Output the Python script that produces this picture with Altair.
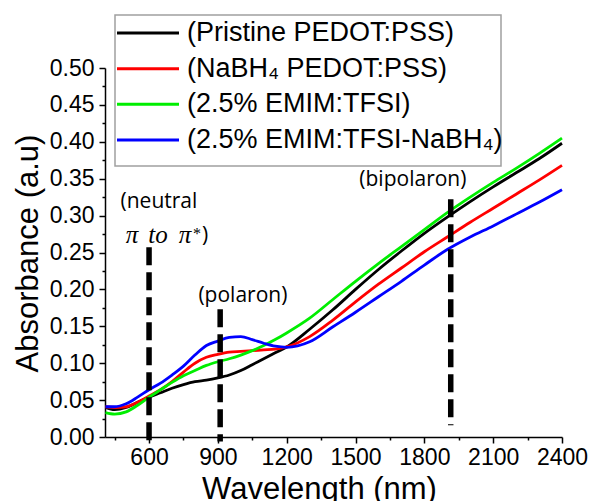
import altair as alt
import pandas as pd

# ---------------- data ----------------
wavelength = [410, 450, 500, 550, 600, 650, 700, 750, 800, 850, 900, 950, 1000, 1050,
              1100, 1150, 1200, 1300, 1400, 1500, 1600, 1700, 1800, 1900, 2000, 2100,
              2200, 2300, 2400]
pristine = [0.040, 0.037, 0.040, 0.047, 0.054, 0.060, 0.066, 0.071, 0.075, 0.077, 0.080,
            0.084, 0.090, 0.098, 0.106, 0.114, 0.122, 0.146, 0.172, 0.200, 0.227, 0.252,
            0.276, 0.298, 0.319, 0.339, 0.358, 0.377, 0.398]
nabh4 = [0.041, 0.040, 0.041, 0.047, 0.0555, 0.064, 0.075, 0.088, 0.100, 0.108, 0.112,
         0.115, 0.116, 0.117, 0.118, 0.119, 0.122, 0.136, 0.158, 0.183, 0.207, 0.229,
         0.251, 0.271, 0.291, 0.310, 0.329, 0.348, 0.368]
emim = [0.033, 0.031, 0.034, 0.043, 0.054, 0.064, 0.074, 0.083, 0.090, 0.097, 0.102,
        0.106, 0.111, 0.117, 0.124, 0.132, 0.141, 0.161, 0.186, 0.211, 0.235, 0.258,
        0.281, 0.304, 0.325, 0.345, 0.364, 0.384, 0.405]
emim_nabh4 = [0.041, 0.041, 0.045, 0.054, 0.064, 0.073, 0.084, 0.096, 0.111, 0.124, 0.130,
              0.135, 0.136, 0.132, 0.127, 0.123, 0.1215, 0.129, 0.149, 0.169, 0.190, 0.211,
              0.233, 0.254, 0.271, 0.286, 0.302, 0.318, 0.335]

series_names = ["(Pristine PEDOT:PSS)", "(NaBH\u2084 PEDOT:PSS)",
                "(2.5% EMIM:TFSI)", "(2.5% EMIM:TFSI-NaBH\u2084)"]
series_colors = ["#000000", "#ff0000", "#00ee00", "#0000ff"]

peak_wavelength = [600, 910, 1915]
peak_top = [0.257, 0.173, 0.322]
peak_bottom = [-0.006, -0.006, 0.016]

note_text = ["(neutral", "(polaron)", "(bipolaron)", ")"]
note_x = [643, 1009, 1750, 844]
note_y = [0.318, 0.191, 0.348, 0.272]

math_text = ["\u03c0", "to", "\u03c0"]
math_x = [526, 639, 757]
math_y = [0.263, 0.263, 0.263]

star_text = ["*"]
star_x = [809]
star_y = [0.268]

x_major = [600, 900, 1200, 1500, 1800, 2100, 2400]
x_minor = [450, 750, 1050, 1350, 1650, 1950, 2250]
y_major = [0.0, 0.05, 0.1, 0.15, 0.2, 0.25, 0.3, 0.35, 0.4, 0.45, 0.5]
y_minor = [0.025, 0.075, 0.125, 0.175, 0.225, 0.275, 0.325, 0.375, 0.425, 0.475]

# ---------------- tables ----------------
rows = []
for name, vals in zip(series_names, [pristine, nabh4, emim, emim_nabh4]):
    for w, v in zip(wavelength, vals):
        rows.append({"series": name, "wavelength": w, "absorbance": v})
spectra = pd.DataFrame(rows)
peaks = pd.DataFrame({"w": peak_wavelength, "top": peak_top, "bottom": peak_bottom})
notes = pd.DataFrame({"t": note_text, "w": note_x, "a": note_y})
maths = pd.DataFrame({"t": math_text, "w": math_x, "a": math_y})
stars = pd.DataFrame({"t": star_text, "w": star_x, "a": star_y})
legend_df = pd.DataFrame({"series": series_names})
box_df = pd.DataFrame({"k": [0]})

FONT = "Liberation Sans"

xscale = alt.Scale(domain=[408, 2400], nice=False, zero=False)
yscale = alt.Scale(domain=[0, 0.5], nice=False, zero=False)
cscale = alt.Scale(domain=series_names, range=series_colors)

common = dict(domainColor="#000", domainWidth=1.5, tickColor="#000", tickWidth=1.5,
              grid=False, labelOverlap=False, labelFlush=False, labelBound=False)

x_axis = alt.Axis(
    values=x_major, orient="bottom", tickSize=6, format="d",
    labelFont=FONT, labelFontSize=23, labelColor="#000", labelPadding=3,
    title="Wavelength (nm)", titleFont=FONT, titleFontSize=31,
    titleFontWeight="normal", titleColor="#000", titleX=214, titleY=61,
    titleAlign="center", titleBaseline="alphabetic", **common,
)
x_axis_minor = alt.Axis(values=x_minor, orient="bottom", tickSize=3, labels=False,
                        domain=False, title=None, tickColor="#000", tickWidth=1.5,
                        grid=False)
y_axis = alt.Axis(
    values=y_major, orient="left", tickSize=6, format=".2f",
    labelFont=FONT, labelFontSize=23, labelColor="#000", labelPadding=5,
    title="Absorbance (a.u)", titleFont=FONT, titleFontSize=31,
    titleFontWeight="normal", titleColor="#000", titleX=-77, titleY=185,
    titleAngle=270, titleAlign="center", titleBaseline="middle", **common,
)
y_axis_minor = alt.Axis(values=y_minor, orient="left", tickSize=3, labels=False,
                        domain=False, title=None, tickColor="#000", tickWidth=1.5,
                        grid=False)

curves = alt.Chart(spectra).mark_line(strokeWidth=2.8, interpolate="monotone").encode(
    x=alt.X("wavelength:Q", scale=xscale, axis=x_axis),
    y=alt.Y("absorbance:Q", scale=yscale, axis=y_axis),
    color=alt.Color("series:N", scale=cscale, legend=None),
    detail="series:N",
)

dashes = alt.Chart(peaks).mark_rule(color="#000", strokeWidth=5.5, strokeDash=[18, 7]).encode(
    x=alt.X("w:Q", scale=xscale, axis=x_axis_minor),
    y=alt.Y("top:Q", scale=yscale, axis=y_axis_minor),
    y2="bottom:Q",
)

note_layer = alt.Chart(notes).mark_text(
    font="Open Sans", fontSize=21, color="#000", align="center", baseline="middle"
).encode(x=alt.X("w:Q", scale=xscale, axis=None),
         y=alt.Y("a:Q", scale=yscale, axis=None), text="t:N")

math_layer = alt.Chart(maths).mark_text(
    font="Liberation Serif", fontSize=25, fontStyle="italic", color="#000",
    align="center", baseline="alphabetic"
).encode(x=alt.X("w:Q", scale=xscale, axis=None),
         y=alt.Y("a:Q", scale=yscale, axis=None), text="t:N")

star_layer = alt.Chart(stars).mark_text(
    font="Liberation Serif", fontSize=16, color="#000", align="center", baseline="alphabetic"
).encode(x=alt.X("w:Q", scale=xscale, axis=None),
         y=alt.Y("a:Q", scale=yscale, axis=None), text="t:N")

main = alt.layer(curves, dashes, note_layer, math_layer, star_layer).resolve_axis(
    x="independent", y="independent")

# ---------------- legend (frame + entries) ----------------
ly = alt.Y("series:N", scale=alt.Scale(type="point", domain=series_names,
                                       range=[-35, 72], padding=0), axis=None)
box = alt.Chart(box_df).mark_rect(fill="#ffffff", stroke="#a0a0a0", strokeWidth=1.5).encode(
    x=alt.value(10), x2=alt.value(396), y=alt.value(-53), y2=alt.value(98)
)
leg_lines = alt.Chart(legend_df).mark_rule(strokeWidth=3).encode(
    x=alt.value(12), x2=alt.value(74), y=ly,
    color=alt.Color("series:N", scale=cscale, legend=None),
)
leg_text = alt.Chart(legend_df).mark_text(
    font=FONT, fontSize=27, color="#000", align="left", baseline="middle"
).encode(x=alt.value(82), y=ly, text="series:N")
legend = alt.layer(box, leg_lines, leg_text)

chart = alt.layer(main, legend).resolve_scale(y="independent").properties(
    width=457, height=369,
    autosize=alt.AutoSizeParams(type="none"),
    padding={"left": 105, "top": 68, "right": 28, "bottom": 64},
    background="#ffffff",
).configure_view(stroke=None)

chart.save("out.html", embed_options={"renderer": "svg", "actions": False})
